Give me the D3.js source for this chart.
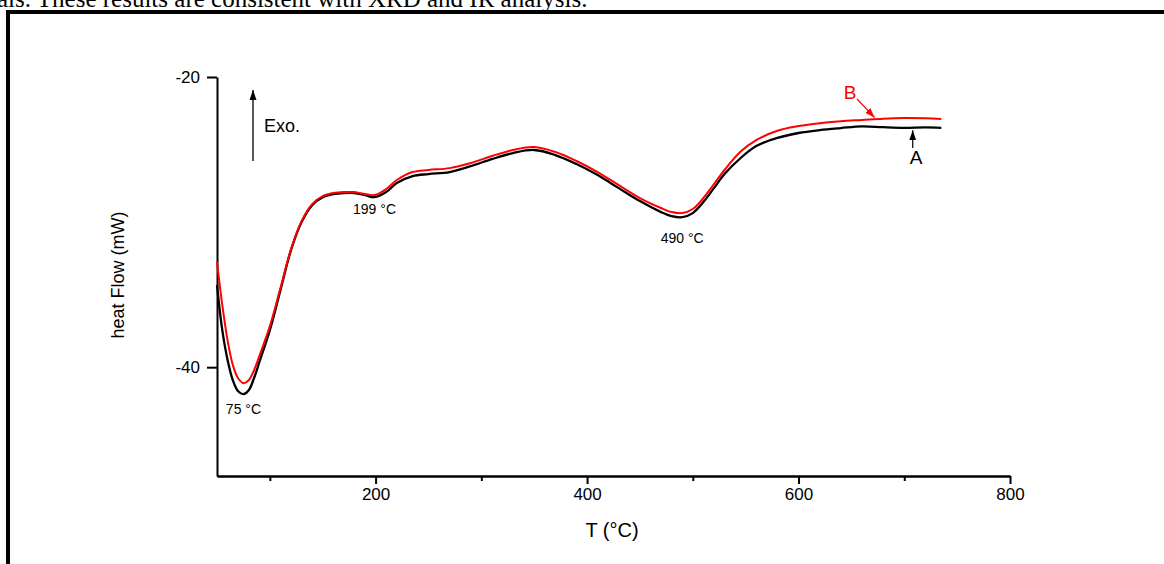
<!DOCTYPE html>
<html>
<head>
<meta charset="utf-8">
<script src="https://cdn.jsdelivr.net/npm/d3@7"></script>
<style>
  body { margin: 0; background: #fff; }
  svg text { font-family: "Liberation Sans", Arial, sans-serif; fill: #000; }
</style>
</head>
<body>
<div id="vis"></div>
<script>
var width = 1164,
    height = 564;

// temperatures (°C) and heat flow (mW)
var temps = [50, 55, 60, 65, 70, 75, 80, 85, 90, 100, 110, 120, 130, 140, 150, 160, 170, 180, 190, 199,
             210, 220, 235, 250, 270, 290, 310, 330, 350, 370, 390, 410, 430, 450, 470, 480, 490, 500,
             510, 520, 530, 545, 560, 580, 600, 620, 640, 660, 680, 700, 720, 735];

var flowA = [-34.34, -37.45, -39.5, -40.9, -41.66, -41.86, -41.59, -40.76, -39.66, -37.45, -34.69, -31.93,
             -30.0, -28.83, -28.28, -28.07, -28.0, -28.0, -28.14, -28.28, -27.93, -27.31, -26.83, -26.69,
             -26.55, -26.14, -25.66, -25.24, -25.03, -25.38, -26.0, -26.76, -27.66, -28.55, -29.31, -29.59,
             -29.66, -29.38, -28.62, -27.66, -26.69, -25.6, -24.76, -24.2, -23.86, -23.66, -23.52, -23.4,
             -23.46, -23.5, -23.47, -23.5];

var flowB = [-32.76, -35.72, -38.14, -39.86, -40.76, -41.1, -40.9, -40.21, -39.24, -37.17, -34.55, -31.86,
             -29.93, -28.76, -28.21, -28.0, -27.93, -27.93, -28.07, -28.14, -27.72, -27.1, -26.55, -26.41,
             -26.28, -25.93, -25.45, -25.03, -24.83, -25.17, -25.79, -26.55, -27.45, -28.34, -29.03, -29.31,
             -29.38, -29.1, -28.34, -27.38, -26.41, -25.15, -24.35, -23.7, -23.38, -23.18, -23.05, -22.96,
             -22.87, -22.83, -22.85, -22.9];

var xMajor = [200, 400, 600, 800],
    xMinor = [100, 300, 500, 700],
    yMajor = [-20, -40];

// peak labels: [temperature, flow, text]
var peaks = [[75, -43.25, "75 °C"], [199, -29.45, "199 °C"], [490, -31.45, "490 °C"]];

var svg = d3.select("#vis").append("svg")
    .attr("width", width)
    .attr("height", height);

svg.append("rect").attr("width", width).attr("height", height).attr("fill", "#fff");

// page text above the figure (cut off at the top)
svg.append("text")
    .attr("x", -3)
    .attr("y", 7)
    .style("font-family", "'Liberation Serif', 'Times New Roman', serif")
    .style("font-size", "25px")
    .text("als. These results are consistent with XRD and IR analysis.");

// figure frame
svg.append("path")
    .attr("d", "M8,564 L8,12 L1164,12")
    .attr("fill", "none")
    .attr("stroke", "#000")
    .attr("stroke-width", 4);

var x = d3.scaleLinear().domain([50, 800]).range([217, 1010]);
var y = d3.scaleLinear().domain([-47.5, -20]).range([476, 77]);

// axes
svg.append("g")
    .attr("transform", "translate(0,476)")
    .call(d3.axisBottom(x).tickValues(xMajor).tickSize(8).tickSizeOuter(0).tickPadding(4)
        .tickFormat(function(d) { return String(d); }));

svg.append("g")
    .attr("transform", "translate(0,476)")
    .call(d3.axisBottom(x).tickValues(xMinor).tickSize(5).tickSizeOuter(0).tickFormat(""));

svg.append("g")
    .attr("transform", "translate(217,0)")
    .call(d3.axisLeft(y).tickValues(yMajor).tickSize(10).tickSizeOuter(0).tickPadding(7)
        .tickFormat(function(d) { return String(d); }));

svg.selectAll(".domain, .tick line").attr("stroke", "#000").attr("stroke-width", 2);
svg.selectAll(".tick text").attr("font-size", 17).style("font-size", "17px").attr("fill", "#000");

svg.append("text")
    .attr("x", 612)
    .attr("y", 537)
    .attr("text-anchor", "middle")
    .style("font-size", "20px")
    .text("T (°C)");

svg.append("text")
    .attr("transform", "translate(124,275) rotate(-90)")
    .attr("text-anchor", "middle")
    .style("font-size", "18px")
    .text("heat Flow (mW)");

// curves
var line = d3.line()
    .x(function(d) { return x(d[0]); })
    .y(function(d) { return y(d[1]); })
    .curve(d3.curveCatmullRom);

svg.append("path")
    .datum(d3.zip(temps, flowA))
    .attr("fill", "none")
    .attr("stroke", "#000")
    .attr("stroke-width", 2.3)
    .attr("d", line);

svg.append("path")
    .datum(d3.zip(temps, flowB))
    .attr("fill", "none")
    .attr("stroke", "#ff0000")
    .attr("stroke-width", 2)
    .attr("d", line);

// peak labels
svg.selectAll(".peak")
    .data(peaks)
    .enter()
    .append("text")
    .attr("class", "peak")
    .attr("x", function(d) { return x(d[0]); })
    .attr("y", function(d) { return y(d[1]); })
    .attr("text-anchor", "middle")
    .style("font-size", "14px")
    .text(function(d) { return d[2]; });

// arrow heads
var defs = svg.append("defs");
function arrowHead(id, color) {
  defs.append("marker")
      .attr("id", id)
      .attr("viewBox", "0 0 10 10")
      .attr("refX", 10)
      .attr("refY", 5)
      .attr("markerWidth", 10)
      .attr("markerHeight", 10)
      .attr("markerUnits", "userSpaceOnUse")
      .attr("orient", "auto")
    .append("path")
      .attr("d", "M0,1.5 L10,5 L0,8.5 Z")
      .attr("fill", color);
}
arrowHead("headK", "#000");
arrowHead("headR", "#ff0000");

// Exo. arrow
svg.append("line")
    .attr("x1", 253).attr("y1", 161)
    .attr("x2", 253).attr("y2", 90)
    .attr("stroke", "#000")
    .attr("stroke-width", 1.3)
    .attr("marker-end", "url(#headK)");

svg.append("text")
    .attr("x", 264)
    .attr("y", 132)
    .style("font-size", "18px")
    .text("Exo.");

// B label
svg.append("text")
    .attr("x", 850)
    .attr("y", 99)
    .attr("text-anchor", "middle")
    .style("fill", "#ff0000")
    .style("font-size", "19px")
    .text("B");

svg.append("line")
    .attr("x1", 857).attr("y1", 99)
    .attr("x2", x(672)).attr("y2", y(-22.87) - 1)
    .attr("stroke", "#ff0000")
    .attr("stroke-width", 1.2)
    .attr("marker-end", "url(#headR)");

// A label
svg.append("text")
    .attr("x", 916)
    .attr("y", 164)
    .attr("text-anchor", "middle")
    .style("font-size", "19px")
    .text("A");

svg.append("line")
    .attr("x1", x(708)).attr("y1", 148)
    .attr("x2", x(708)).attr("y2", y(-23.47) + 3)
    .attr("stroke", "#000")
    .attr("stroke-width", 1.2)
    .attr("marker-end", "url(#headK)");
</script>
</body>
</html>
